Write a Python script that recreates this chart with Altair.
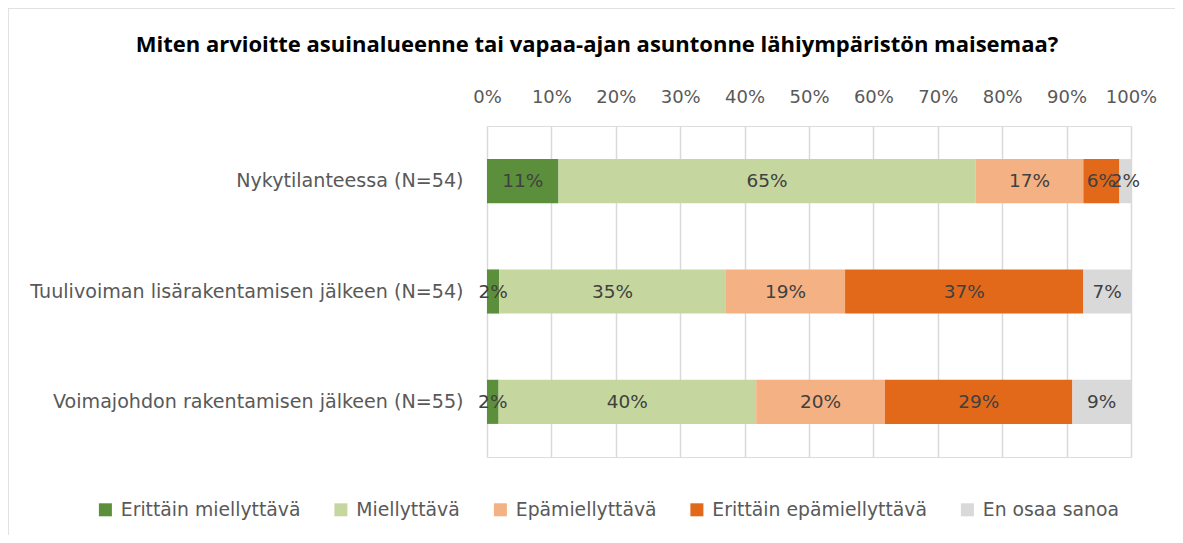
import altair as alt
import pandas as pd

categories = [
    "Nykytilanteessa (N=54)",
    "Tuulivoiman lisärakentamisen jälkeen (N=54)",
    "Voimajohdon rakentamisen jälkeen (N=55)",
]
series = [
    "Erittäin miellyttävä",
    "Miellyttävä",
    "Epämiellyttävä",
    "Erittäin epämiellyttävä",
    "En osaa sanoa",
]
colors = ["#5B8F3B", "#C5D79E", "#F4B183", "#E2691A", "#D9D9D9"]
# percentages per category, in series order
values = [
    [11.1, 64.8, 16.7, 5.6, 1.9],
    [1.9, 35.2, 18.5, 37.0, 7.4],
    [1.8, 40.0, 20.0, 29.1, 9.1],
]
title_text = "Miten arvioitte asuinalueenne tai vapaa-ajan asuntonne lähiympäristön maisemaa?"

rows = []
for ci, cat in enumerate(categories):
    for si, s in enumerate(series):
        rows.append({"cat": cat, "series": s, "order": si, "value": values[ci][si] / 100.0})
df = pd.DataFrame(rows)

FONT = "DejaVu Sans"
W, H = 644, 331

base = alt.Chart(df).transform_stack(
    stack="value", groupby=["cat"], sort=[alt.SortField("order", "ascending")], as_=["x0", "x1"]
)

y_enc = alt.Y(
    "cat:N",
    sort=categories,
    title=None,
    scale=alt.Scale(paddingInner=0.6, paddingOuter=0.3),
    axis=alt.Axis(
        labelFont=FONT, labelFontSize=19.1, labelColor="#595959", labelPadding=24,
        ticks=False, domain=False, labelLimit=600,
    ),
)

bars = base.mark_bar().encode(
    x=alt.X(
        "x0:Q",
        title=None,
        scale=alt.Scale(domain=[0, 1], nice=False),
        axis=alt.Axis(
            orient="top", format=".0%", values=[i / 10 for i in range(11)],
            labelFont=FONT, labelFontSize=18, labelColor="#595959", labelPadding=20,
            labelOverlap=False, labelBound=False, labelFlush=False,
            ticks=False, domain=False, grid=True, gridColor="#D9D9D9", gridWidth=1.5,
        ),
    ),
    x2="x1:Q",
    y=y_enc,
    color=alt.Color(
        "series:N",
        sort=series,
        scale=alt.Scale(domain=series, range=colors),
        legend=alt.Legend(
            title=None, orient="none", direction="horizontal", columns=5,
            legendX=-391, legendY=374,
            symbolType="square", symbolSize=169, symbolStrokeWidth=0,
            labelFont=FONT, labelFontSize=18.8, labelColor="#595959",
            labelOffset=6, columnPadding=30.5, padding=0, labelLimit=400,
        ),
    ),
    order=alt.Order("order:Q"),
)

labels = base.transform_calculate(
    mid="(datum.x0 + datum.x1) / 2"
).mark_text(font=FONT, fontSize=18.5, color="#404040").encode(
    x=alt.X("mid:Q"),
    y=alt.Y("cat:N", sort=categories),
    text=alt.Text("value:Q", format=".0%"),
)

one = alt.Chart(df).transform_filter(
    "datum.order == 0 && datum.cat == '" + categories[0] + "'"
)
frame_top = one.mark_rule(color="#D9D9D9", strokeWidth=1.5).encode(
    x=alt.value(-479), x2=alt.value(W + 44), y=alt.value(-118)
)
frame_left = one.mark_rule(color="#D9D9D9", strokeWidth=1.5).encode(
    x=alt.value(-479), y=alt.value(-118), y2=alt.value(H + 78)
)

chart = alt.layer(frame_top, frame_left, bars, labels).properties(
    width=W,
    height=H,
    autosize=alt.AutoSizeParams(type="none"),
    padding={"left": 479, "top": 118, "right": 44, "bottom": 78},
    title=alt.TitleParams(
        title_text, font="Open Sans", fontSize=22, fontWeight="bold", color="#000000",
        anchor="middle", dx=-212, offset=0, dy=50,
    ),
).configure_view(stroke="transparent", strokeWidth=0).configure(background="white")

chart.save("out.html", embed_options={"renderer": "svg", "actions": False})
